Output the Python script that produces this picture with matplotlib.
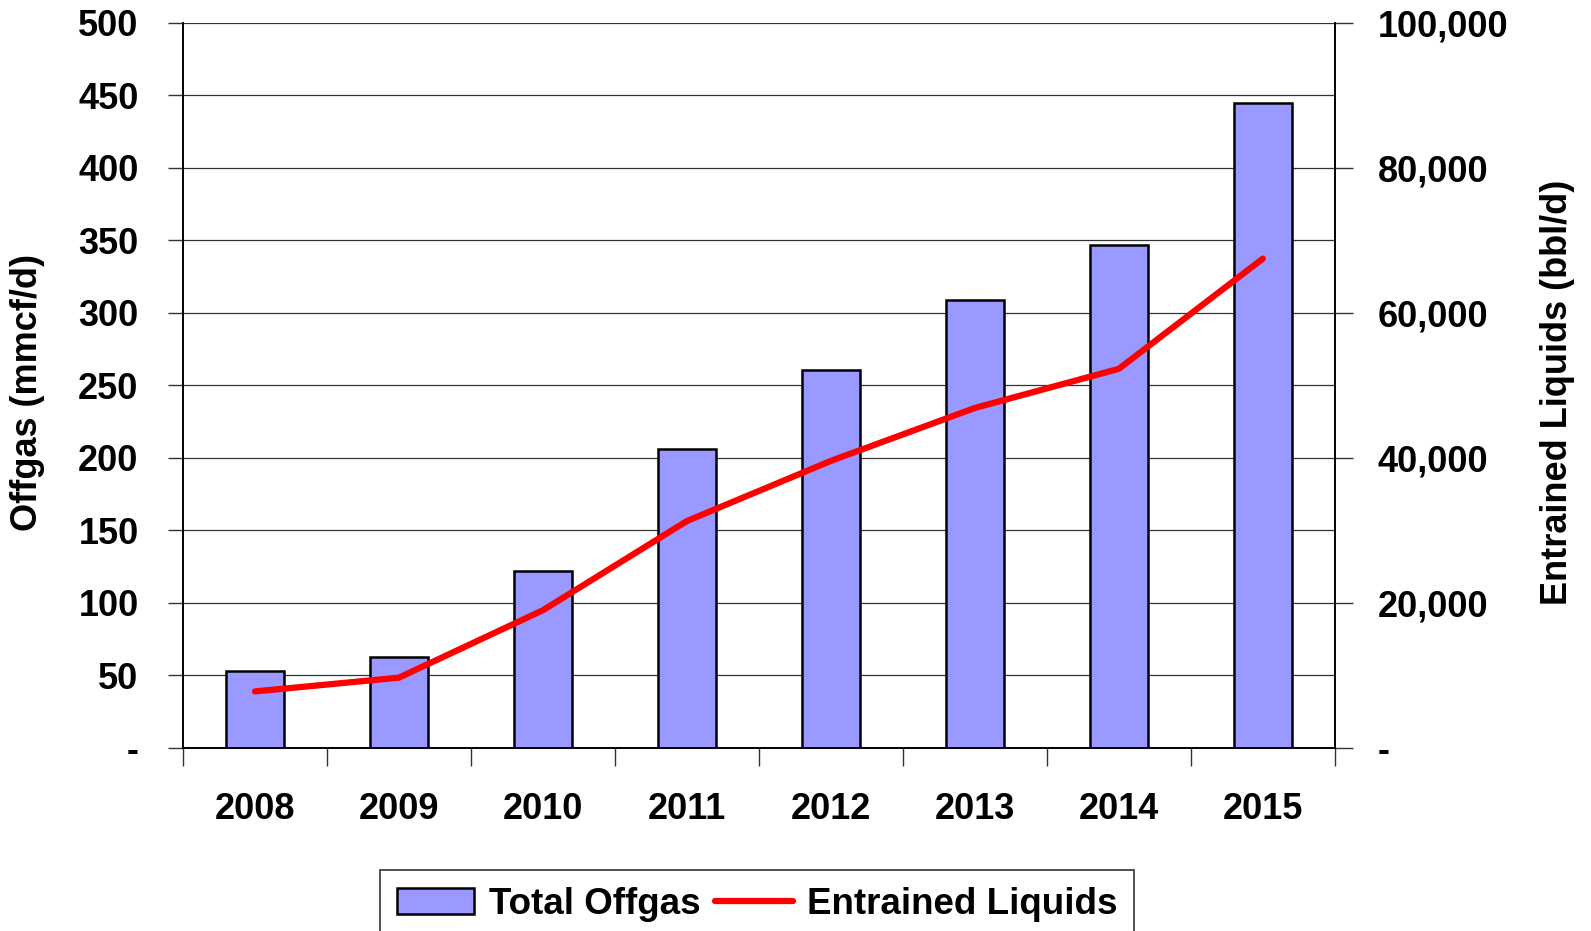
import matplotlib.pyplot as plt
import numpy as np
from matplotlib.ticker import FuncFormatter

plt.rcParams['font.family'] = ['Liberation Sans', 'DejaVu Sans']
plt.rcParams['font.weight'] = 'bold'

# data
years = ['2008', '2009', '2010', '2011', '2012', '2013', '2014', '2015']
offgas = [53, 63, 122, 206, 261, 309, 347, 445]          # mmcf/d
liquids = [7800, 9700, 19000, 31300, 39600, 46900, 52300, 67500]   # bbl/d

fig = plt.figure(figsize=(15.91, 9.31), dpi=100)
ax = fig.add_axes([0.115, 0.1966, 0.724, 0.7787])
ax2 = ax.twinx()

x = np.arange(len(years))
bars = ax.bar(x, offgas, width=0.4, color='#9999FF', edgecolor='black',
              linewidth=1.8, label='Total Offgas', zorder=3)
line, = ax2.plot(x, liquids, color='#FF0000', linewidth=4.5,
                 solid_capstyle='round', label='Entrained Liquids', zorder=4)

ax.set_xlim(-0.5, len(years) - 0.5)
ax.set_ylim(0, 500)
ax2.set_ylim(0, 100000)

# left axis
ax.set_yticks(np.arange(0, 501, 50))
ax.yaxis.set_major_formatter(FuncFormatter(lambda v, p: '-' if v == 0 else '%d' % v))
ax.grid(axis='y', color='#333333', linewidth=0.9, zorder=0)
ax.set_axisbelow(True)

# category ticks between bars
ax.set_xticks(x)
ax.set_xticklabels(years)
ax.set_xticks(np.arange(-0.5, len(years), 1.0), minor=True)
ax.tick_params(axis='x', which='major', length=0, pad=32, labelsize=26)
ax.tick_params(axis='x', which='minor', length=13, width=1, color='#333333')
ax.tick_params(axis='y', length=11, width=1, color='#333333', labelsize=26, pad=21)

# right axis
ax2.set_yticks(np.arange(0, 100001, 20000))
ax2.yaxis.set_major_formatter(FuncFormatter(lambda v, p: '-' if v == 0 else format(int(v), ',')))
ax2.tick_params(axis='y', length=13, width=1, color='#333333', labelsize=26, pad=18)

for a in (ax, ax2):
    a.spines['top'].set_visible(False)
    a.spines['left'].set_linewidth(1.2)
    a.spines['right'].set_linewidth(1.2)
    a.spines['bottom'].set_linewidth(1.2)

ax.set_ylabel('Offgas (mmcf/d)', fontsize=26, fontweight='bold')
ax.yaxis.set_label_coords(-0.12, 0.49)
ax2.set_ylabel('Entrained Liquids (bbl/d)', fontsize=26, fontweight='bold',
               rotation=90)
ax2.yaxis.set_label_coords(1.178, 0.49)

leg = fig.legend([bars, line], ['Total Offgas', 'Entrained Liquids'],
                 loc='upper center', bbox_to_anchor=(0.476, 1 - 870 / 931),
                 ncol=2, fontsize=26.5, frameon=True, fancybox=False,
                 edgecolor='black', handlelength=2.1, handletextpad=0.4,
                 columnspacing=0.4, borderpad=0.45, borderaxespad=0)
leg.get_frame().set_linewidth(1.2)

fig.savefig('out.png', dpi=100)
